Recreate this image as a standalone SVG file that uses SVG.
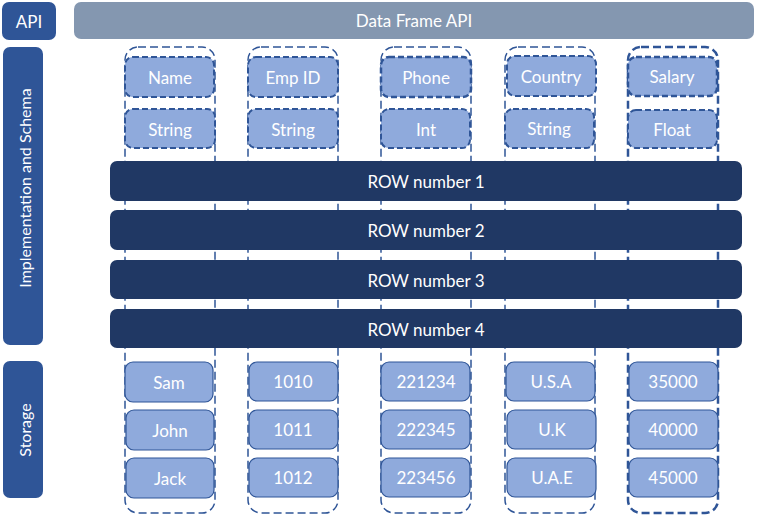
<svg xmlns="http://www.w3.org/2000/svg" width="768" height="515" viewBox="0 0 768 515">
<style>
text{font-family:Lato,"Open Sans","Liberation Sans",sans-serif;fill:#fff;font-size:17px;text-anchor:middle;dominant-baseline:central}
.vt{font-size:16px}
.side{fill:#2F5597}
.col{fill:none;stroke:#2F5597;stroke-width:1.5;stroke-dasharray:8 4}
.sch{fill:#8FAADC;stroke:#2F5597;stroke-width:2;stroke-dasharray:6 3}
.sto{fill:#8FAADC;stroke:#2F5597;stroke-width:1.2}
.row{fill:#203864}
</style>
<rect width="768" height="515" fill="#fff"/>
<g id="api"><rect class="side" x="2" y="2" width="54" height="38" rx="7"/><text x="29" y="21">API</text></g>
<g id="dataframe"><rect x="74" y="2" width="680" height="37" rx="7" fill="#8497B0"/><text x="414" y="20">Data Frame API</text></g>
<g id="impl"><rect class="side" x="3" y="47" width="40" height="298" rx="7"/><text class="vt" transform="translate(24 188) rotate(-90)">Implementation and Schema</text></g>
<g id="storage"><rect class="side" x="3" y="361" width="40" height="137" rx="7"/><text class="vt" transform="translate(24 430) rotate(-90)">Storage</text></g>
<g id="columns">
<rect class="col" x="125" y="47" width="90" height="466" rx="13"/>
<rect class="col" x="248" y="47" width="90" height="466" rx="13"/>
<rect class="col" x="381" y="47" width="90" height="466" rx="13"/>
<rect class="col" x="505" y="47" width="90" height="466" rx="13"/>
<rect class="col" x="628" y="47" width="90" height="466" rx="13" style="stroke-width:2.5"/>
</g>
<g id="schema">
<rect class="sch" x="125" y="57" width="89" height="40" rx="8"/><text x="170" y="77">Name</text>
<rect class="sch" x="125" y="109" width="90" height="39" rx="8"/><text x="170" y="129">String</text>
<rect class="sch" x="248" y="57" width="90" height="40" rx="8"/><text x="293" y="77">Emp ID</text>
<rect class="sch" x="248" y="109" width="90" height="39" rx="8"/><text x="293" y="129">String</text>
<rect class="sch" x="381" y="57" width="90" height="40" rx="8" style="stroke-width:2.5"/><text x="426" y="77">Phone</text>
<rect class="sch" x="381" y="109" width="89" height="39" rx="8"/><text x="426" y="129">Int</text>
<rect class="sch" x="507" y="56" width="89" height="40" rx="8"/><text x="551" y="76">Country</text>
<rect class="sch" x="505" y="109" width="89" height="39" rx="8"/><text x="549" y="128">String</text>
<rect class="sch" x="628" y="57" width="89" height="39" rx="8" style="stroke-width:2.5"/><text x="672" y="76">Salary</text>
<rect class="sch" x="628" y="110" width="89" height="38" rx="8"/><text x="672" y="129">Float</text>
</g>
<g id="rows">
<rect class="row" x="110" y="161" width="632" height="40" rx="7"/><text x="426" y="181">ROW number 1</text>
<rect class="row" x="110" y="210" width="632" height="40" rx="7"/><text x="426" y="230">ROW number 2</text>
<rect class="row" x="110" y="260" width="632" height="39" rx="7"/><text x="426" y="280">ROW number 3</text>
<rect class="row" x="110" y="309" width="632" height="39" rx="7"/><text x="426" y="329">ROW number 4</text>
</g>
<g id="data">
<rect class="sto" x="125" y="362" width="88" height="40" rx="8"/><text x="169" y="382">Sam</text>
<rect class="sto" x="126" y="410" width="88" height="40" rx="8"/><text x="170" y="430">John</text>
<rect class="sto" x="126" y="458" width="88" height="40" rx="8"/><text x="170" y="478">Jack</text>
<rect class="sto" x="249" y="362" width="89" height="39" rx="8"/><text x="293" y="381">1010</text>
<rect class="sto" x="249" y="410" width="89" height="39" rx="8"/><text x="293" y="429">1011</text>
<rect class="sto" x="249" y="458" width="89" height="39" rx="8"/><text x="293" y="477">1012</text>
<rect class="sto" x="381" y="362" width="89" height="39" rx="8"/><text x="426" y="381">221234</text>
<rect class="sto" x="381" y="410" width="89" height="39" rx="8"/><text x="426" y="429">222345</text>
<rect class="sto" x="381" y="458" width="89" height="39" rx="8"/><text x="426" y="477">223456</text>
<rect class="sto" x="506" y="362" width="89" height="39" rx="8"/><text x="551" y="381">U.S.A</text>
<rect class="sto" x="507" y="410" width="89" height="39" rx="8"/><text x="552" y="429">U.K</text>
<rect class="sto" x="507" y="458" width="89" height="39" rx="8"/><text x="552" y="477">U.A.E</text>
<rect class="sto" x="629" y="362" width="89" height="39" rx="8"/><text x="673" y="381">35000</text>
<rect class="sto" x="629" y="410" width="89" height="39" rx="8"/><text x="673" y="429">40000</text>
<rect class="sto" x="629" y="458" width="89" height="39" rx="8"/><text x="673" y="477">45000</text>
</g>
</svg>
